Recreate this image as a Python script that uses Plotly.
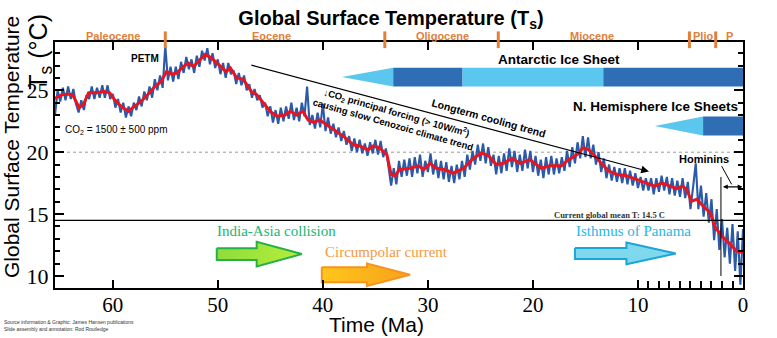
import numpy as np
import plotly.graph_objects as go

# ---------------------------------------------------------------------------
# Data
# ---------------------------------------------------------------------------
# Smoothed global surface temperature (age in Ma, temperature in deg C)
smooth_age = [65.5, 65.4, 64.8, 64.2, 63.8, 63.2, 62.8, 62.3, 61.6, 60.8, 60.3, 59.7,
              59.2, 58.5, 58.1, 57.3, 56.5, 56.0, 55.4, 54.9, 54.4, 53.9, 53.3, 52.8,
              52.3, 51.9, 51.2, 50.6, 50.2, 49.6, 49.2, 48.8, 48.2, 47.6, 46.8, 46.3,
              45.8, 45.0, 44.4, 43.6, 43.1, 42.5, 41.9, 41.4, 40.9, 40.3, 39.6, 38.8,
              37.9, 37.1, 36.5, 35.7, 35.2, 34.6, 33.9, 33.5, 33.1, 32.7, 31.7, 30.9,
              30.4, 29.8, 29.2, 28.4, 27.6, 26.6, 25.8, 24.9, 24.2, 23.5, 22.8, 22.0,
              21.2, 20.3, 19.5, 19.2, 18.4, 17.3, 16.6, 15.8, 15.2, 14.7, 14.1, 13.5,
              12.8, 12.0, 11.1, 10.1, 9.2, 8.4, 7.7, 6.8, 6.3, 5.8, 5.4, 4.9,
              4.4, 3.8, 3.1, 2.7, 2.0, 1.2, 0.6, 0.0]
smooth_temp = [24.3, 24.4, 24.65, 24.7, 24.6, 23.6, 23.85, 24.8, 24.8, 24.9, 24.8, 24.1,
               23.7, 23.3, 23.6, 24.1, 24.8, 25.3, 25.7, 26.5, 26.3, 26.4, 26.9, 27.2,
               26.9, 27.3, 27.9, 27.6, 27.3, 26.8, 26.5, 26.8, 26.0, 25.9, 24.9, 24.65,
               24.1, 23.3, 22.9, 23.0, 23.3, 23.0, 23.3, 22.6, 22.4, 22.6, 22.2, 21.7,
               21.2, 20.6, 20.5, 20.2, 20.5, 20.35, 19.8, 18.2, 18.1, 18.6, 18.7, 18.9,
               18.6, 19.1, 18.7, 18.6, 18.3, 18.7, 19.4, 19.95, 19.7, 19.0, 19.1, 19.5,
               19.1, 19.4, 18.9, 18.7, 18.9, 18.9, 19.4, 19.8, 20.35, 20.2, 19.7, 19.1,
               18.5, 18.2, 18.1, 17.8, 17.5, 17.25, 17.5, 17.25, 17.05, 17.25, 17.05, 16.05,
               16.2, 15.65, 15.1, 14.0, 13.2, 12.55, 12.0, 11.9]

# Raw record, one value every 0.25 Ma from 65.5 Ma to the present
raw_temp = [
    23.0, 25.0,
    24.1, 25.2, 24.2, 25.3,   # 65
    24.3, 25.1, 23.9, 23.2,   # 64
    24.2, 23.4, 24.6, 24.3,   # 63
    25.3, 24.3, 25.2, 24.4,   # 62
    25.4, 24.4, 25.4, 24.3,   # 61
    24.7, 23.6, 24.3, 23.2,   # 60
    24.0, 22.8, 23.7, 22.9,   # 59
    24.0, 23.4, 24.5, 23.7,   # 58
    24.9, 24.2, 25.3, 24.4,   # 57
    25.9, 25.0, 26.2, 25.2,   # 56
    28.6, 25.8, 26.9, 25.7,   # 55
    26.9, 25.9, 27.3, 26.4,   # 54
    27.7, 26.7, 27.5, 26.4,   # 53
    27.8, 26.9, 28.2, 27.4,   # 52
    28.4, 27.1, 28.0, 26.8,   # 51
    27.5, 26.3, 27.2, 26.0,   # 50
    27.2, 26.3, 26.6, 25.5,   # 49
    26.4, 25.4, 26.2, 25.0,   # 48
    25.5, 24.4, 25.1, 24.2,   # 47
    24.6, 23.6, 24.0, 22.9,   # 46
    23.7, 22.4, 23.4, 22.3,   # 45
    23.6, 22.5, 23.7, 22.7,   # 44
    24.0, 22.6, 23.6, 22.5,   # 43
    24.0, 22.9, 25.3, 22.2,   # 42
    23.0, 21.9, 23.2, 22.0,   # 41
    23.9, 21.7, 22.8, 21.5,   # 40
    22.3, 21.2, 22.0, 20.9,   # 39
    21.7, 20.6, 21.3, 20.1,   # 38
    21.1, 20.0, 21.0, 19.9,   # 37
    20.7, 19.7, 20.8, 19.9,   # 36
    21.0, 19.8, 20.9, 19.6,   # 35
    20.3, 18.8, 17.3, 18.7,   # 34
    17.4, 19.3, 18.0, 19.4,   # 33
    18.1, 19.5, 18.0, 19.6,   # 32
    18.3, 19.8, 18.0, 19.3,   # 31
    18.4, 19.9, 18.2, 19.4,   # 30
    17.9, 19.3, 17.8, 19.2,   # 29
    17.6, 18.9, 17.5, 19.0,   # 28
    17.8, 19.3, 18.0, 19.8,   # 27
    18.6, 20.1, 19.0, 20.6,   # 26
    19.3, 20.7, 19.1, 20.4,   # 25
    18.9, 19.8, 18.2, 19.7,   # 24
    18.3, 19.9, 18.5, 20.3,   # 23
    18.8, 20.1, 18.4, 19.8,   # 22
    18.5, 20.2, 18.7, 20.1,   # 21
    18.4, 19.7, 18.1, 19.4,   # 20
    17.9, 19.6, 18.2, 19.7,   # 19
    18.2, 19.5, 18.3, 19.6,   # 18
    18.5, 20.1, 18.8, 20.4,   # 17
    19.1, 20.8, 19.5, 21.3,   # 16
    19.6, 21.2, 19.5, 20.6,   # 15
    19.0, 20.0, 18.4, 19.5,   # 14
    17.9, 19.0, 17.7, 18.8,   # 13
    17.6, 18.7, 17.5, 18.7,   # 12
    17.4, 18.5, 17.3, 18.3,   # 11
    17.1, 18.0, 16.9, 17.9,   # 10
    16.9, 17.9, 16.6, 17.9,   # 9
    16.8, 18.1, 16.9, 18.0,   # 8
    16.6, 17.9, 16.5, 17.7,   # 7
    16.4, 17.9, 16.3, 17.6,   # 6
    15.4, 17.2, 19.1, 15.4,   # 5
    17.3, 14.8, 16.7, 14.3,   # 4
    16.2, 12.9, 15.4, 12.1,   # 3
    14.6, 11.5, 13.9, 11.0,   # 2
    14.2, 10.4, 13.6, 9.3,    # 1
    13.8,                     # 0
]
raw_age = 65.5 - 0.25 * np.arange(len(raw_temp))

# Geological epochs and their boundaries (Ma)
epoch_names = ["Paleocene", "Eocene", "Oligocene", "Miocene", "Plio", "P"]
epoch_label_age = [60.0, 44.9, 28.6, 14.4, 3.8, 1.3]
epoch_boundaries = [55.0, 34.1, 23.3, 5.1, 2.6]

x_ticks = [60, 50, 40, 30, 20, 10, 0]
y_ticks = [10, 15, 20, 25]
fine_x_ticks = [9, 8, 7, 6, 5, 4, 3, 2, 1]

current_mean_temp = 14.5

# ---------------------------------------------------------------------------
# Styling constants
# ---------------------------------------------------------------------------
SANS = "Liberation Sans"
SERIF = "Liberation Serif"
ORANGE = "#E0803A"
ICE_LIGHT = "#5BC6EE"
ICE_DARK = "#2F6DB5"

fig = go.Figure()

# Raw record and smoothed curve
fig.add_trace(go.Scatter(x=raw_age, y=raw_temp, mode="lines",
                         line=dict(color="#2C5AA8", width=2.1), hoverinfo="skip"))
fig.add_trace(go.Scatter(x=smooth_age, y=smooth_temp, mode="lines",
                         line=dict(color="#E8141E", width=3, shape="linear"),
                         hoverinfo="skip"))

# Block arrows for tectonic / ocean events
def block_arrow(tail, neck, tip, mid, body_h, head_h):
    xs = [tail, neck, neck, tip, neck, neck, tail, tail]
    ys = [mid + body_h, mid + body_h, mid + head_h, mid, mid - head_h,
          mid - body_h, mid - body_h, mid + body_h]
    return xs, ys

events = [
    # label, tail, neck, tip, centre T, body half, head half, fill colours, edge, text colour, text x, text y
    ("India-Asia collision", 50.1, 46.3, 42.0, 11.77, 0.48, 1.0,
     ["#B8EE3A", "#8EDC3C"], "#27B04A", "#22B573", 44.4, 13.6),
    ("Circumpolar current", 40.1, 35.8, 31.7, 10.1, 0.6, 0.9,
     ["#F7A21B", "#FFC61A"], "#F7931E", "#F39A3B", 33.9, 11.95),
    ("Isthmus of Panama", 16.0, 11.1, 6.4, 11.82, 0.45, 0.88,
     ["#7FD8EC", "#7FD8EC"], "#1BA5D8", "#29B6E6", 10.4, 13.6),
]
annotations = []
for (label, tail, neck, tip, mid, bh, hh, fills, edge, tcol, tx, ty) in events:
    xs, ys = block_arrow(tail, neck, tip, mid, bh, hh)
    fig.add_trace(go.Scatter(x=xs, y=ys, mode="lines", fill="toself",
                             fillgradient=dict(type="horizontal",
                                               colorscale=[[0, fills[1]], [1, fills[0]]]),
                             line=dict(color=edge, width=2), hoverinfo="skip"))
    annotations.append(dict(x=tx, y=ty, xref="x", yref="y", text=label, showarrow=False,
                            xanchor="center", yanchor="middle",
                            font=dict(family=SERIF, size=15, color=tcol)))

# Ice sheet bars
shapes = []
def ice_taper(x_point, x_full, y_lo, y_hi):
    y_mid = (y_lo + y_hi) / 2
    return dict(type="path", xref="x", yref="y",
                path=f"M {x_point},{y_mid} L {x_full},{y_hi} L {x_full},{y_lo} Z",
                fillcolor=ICE_LIGHT, line=dict(width=0), layer="above")

def ice_rect(x0, x1, y_lo, y_hi, colour):
    return dict(type="rect", xref="x", yref="y", x0=x0, x1=x1, y0=y_lo, y1=y_hi,
                fillcolor=colour, line=dict(width=0), layer="above")

# Antarctic
shapes += [ice_taper(38.2, 33.3, 25.3, 26.83),
           ice_rect(33.3, 26.7, 25.3, 26.83, ICE_DARK),
           ice_rect(26.7, 13.3, 25.3, 26.83, ICE_LIGHT),
           ice_rect(13.3, 0.0, 25.3, 26.83, ICE_DARK)]
# Northern hemisphere
shapes += [ice_taper(8.4, 3.8, 21.35, 22.88),
           ice_rect(3.8, 0.0, 21.35, 22.88, ICE_DARK)]

# Reference lines
shapes.append(dict(type="line", xref="paper", yref="y", x0=0, x1=1, y0=20, y1=20,
                   line=dict(color="#9A9A9A", width=1, dash="dot"), layer="below"))
shapes.append(dict(type="line", xref="paper", yref="y", x0=0, x1=1,
                   y0=current_mean_temp, y1=current_mean_temp,
                   line=dict(color="black", width=1.2), layer="above"))

# Epoch boundary markers on the top axis
for b in epoch_boundaries:
    shapes.append(dict(type="line", xref="x", yref="paper", x0=b, x1=b, y0=0.975, y1=1.043,
                       line=dict(color=ORANGE, width=3)))
for name, age in zip(epoch_names, epoch_label_age):
    annotations.append(dict(x=age, y=1.024, xref="x", yref="paper", text=f"<b>{name}</b>",
                            showarrow=False, xanchor="center", yanchor="middle",
                            font=dict(family=SANS, size=11, color=ORANGE)))

# Hominin markers
shapes.append(dict(type="line", xref="x", yref="y", x0=2.1, x1=2.1, y0=18.0, y1=10.0,
                   line=dict(color="black", width=1)))
shapes.append(dict(type="line", xref="x", yref="y", x0=2.03, x1=1.08, y0=18.87, y1=17.4,
                   line=dict(color="black", width=1)))
annotations.append(dict(x=0.05, y=17.2, ax=2.05, ay=17.2, xref="x", yref="y",
                        axref="x", ayref="y", text="", showarrow=True, arrowhead=2,
                        arrowside="end+start", arrowsize=0.8, arrowwidth=1.2,
                        arrowcolor="black"))

# Long-term cooling trend arrow
annotations.append(dict(x=8.95, y=18.44, ax=46.95, ay=27.07, xref="x", yref="y",
                        axref="x", ayref="y", text="", showarrow=True, arrowhead=2,
                        arrowsize=1.3, arrowwidth=1.2, arrowcolor="black"))

text_notes = [
    dict(x=56.9, y=27.56, text="<b>PETM</b>", font=dict(family=SANS, size=10, color="black")),
    dict(x=59.6, y=21.77, text="CO<sub>2</sub> = 1500 ± 500 ppm",
         font=dict(family=SANS, size=10, color="black")),
    dict(x=17.5, y=27.45, text="<b>Antarctic Ice Sheet</b>",
         font=dict(family=SANS, size=13.5, color="black")),
    dict(x=8.33, y=23.68, text="<b>N. Hemisphere Ice Sheets</b>",
         font=dict(family=SANS, size=13.5, color="black")),
    dict(x=3.76, y=19.49, text="<b>Hominins</b>", font=dict(family=SANS, size=11, color="black")),
    dict(x=24.2, y=22.8, text="<b>Longterm cooling trend</b>", textangle=15.5,
         font=dict(family=SANS, size=10.5, color="black")),
    dict(x=33.1, y=22.8,
         text="<b>↓CO<sub>2</sub> principal forcing (&gt; 10W/m<sup>2</sup>)<br>"
              "causing slow Cenozoic climate trend</b>",
         textangle=16, font=dict(family=SANS, size=9.5, color="black")),
    dict(x=12.67, y=14.92, text="<b>Current global mean T: 14.5 C</b>",
         font=dict(family=SERIF, size=8.5, color="#333333")),
]
for t in text_notes:
    annotations.append(dict(xref="x", yref="y", showarrow=False,
                            xanchor="center", yanchor="middle", **t))

# Axis titles and credits
annotations += [
    dict(x=-0.064, y=0.573, xref="paper", yref="paper", text="Global Surface Temperature",
         textangle=-90, showarrow=False, xanchor="center", yanchor="middle",
         font=dict(family=SANS, size=21, color="black")),
    dict(x=-0.022, y=0.96, xref="paper", yref="paper", text="T<sub>s</sub> (°C)",
         textangle=-90, showarrow=False, xanchor="center", yanchor="middle",
         font=dict(family=SANS, size=25, color="black")),
    dict(x=0.4666, y=-0.15, xref="paper", yref="paper", text="Time (Ma)", showarrow=False,
         xanchor="center", yanchor="middle",
         font=dict(family=SANS, size=21, color="black")),
    dict(x=-0.077, y=-0.153, xref="paper", yref="paper", xanchor="left", yanchor="middle",
         align="left",
         text="Source information &amp; Graphic: James Hansen publications<br>"
              "Slide assembly and annotation: Rod Routledge",
         showarrow=False, font=dict(family=SANS, size=5, color="#333333")),
]

fig.update_layout(
    width=777, height=338,
    margin=dict(l=55, r=34, t=42, b=50),
    paper_bgcolor="white", plot_bgcolor="white",
    showlegend=False,
    title=dict(text="<b>Global Surface Temperature (T<sub>s</sub>)</b>",
               x=391 / 777, xref="container", xanchor="center",
               y=1 - 18 / 338, yref="container", yanchor="middle",
               font=dict(family=SANS, size=20, color="black")),
    shapes=shapes,
    annotations=annotations,
    xaxis=dict(range=[65.5, 0], tickvals=x_ticks, ticktext=[str(v) for v in x_ticks],
               ticks="inside", ticklen=8, tickwidth=2, tickcolor="black",
               showline=True, linecolor="black", linewidth=2, mirror="ticks",
               showgrid=False, zeroline=False, ticklabelstandoff=-3,
               tickfont=dict(family=SERIF, size=21, color="black")),
    xaxis2=dict(range=[65.5, 0], overlaying="x", anchor="y", side="bottom",
                tickvals=fine_x_ticks, ticks="inside", ticklen=7, tickwidth=1.5,
                tickcolor="black", showticklabels=False, showgrid=False,
                zeroline=False, showline=False),
    yaxis=dict(range=[9.03, 28.9], tickvals=y_ticks,
               ticks="inside", ticklen=9, tickwidth=2, tickcolor="black",
               minor=dict(dtick=1, ticks="inside", ticklen=5, tickwidth=1.5,
                          tickcolor="black", showgrid=False),
               showline=True, linecolor="black", linewidth=2, mirror="ticks",
               showgrid=False, zeroline=False,
               tickfont=dict(family=SERIF, size=22, color="black")),
)
# Invisible trace to activate the fine tick axis
fig.add_trace(go.Scatter(x=[5], y=[20], xaxis="x2", mode="markers",
                         marker=dict(opacity=0), hoverinfo="skip"))

fig.write_html("out.html")
